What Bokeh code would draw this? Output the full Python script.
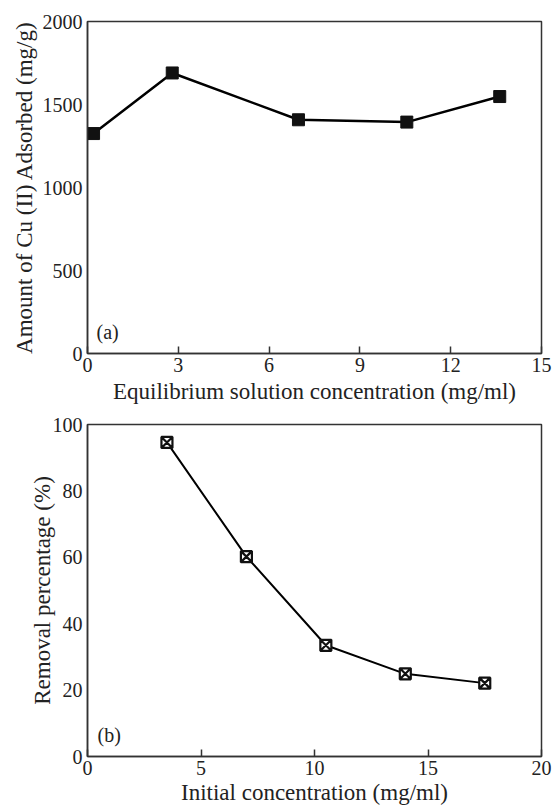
from bokeh.plotting import figure
from bokeh.layouts import column
from bokeh.models import Label, FixedTicker
from bokeh.embed import file_html
from bokeh.resources import INLINE

# Panel (a)
eq_conc = [0.2, 2.8, 6.97, 10.55, 13.62]
adsorbed = [1325, 1690, 1408, 1394, 1548]
xticks_a = [0, 3, 6, 9, 12, 15]
yticks_a = [0, 500, 1000, 1500, 2000]

# Panel (b)
init_conc = [3.5, 7.0, 10.5, 14.0, 17.5]
removal = [94.6, 60.2, 33.5, 24.9, 22.1]
xticks_b = [0, 5, 10, 15, 20]
yticks_b = [0, 20, 40, 60, 80, 100]

FONT = "Liberation Serif"
TXT = "#222222"


def style(p, xt, yt):
    p.xaxis.ticker = FixedTicker(ticks=xt)
    p.yaxis.ticker = FixedTicker(ticks=yt)
    for ax in (p.xaxis[0], p.yaxis[0]):
        ax.axis_label_text_font = FONT
        ax.axis_label_text_font_style = "normal"
        ax.axis_label_text_font_size = "23px"
        ax.axis_label_text_color = TXT
        ax.major_label_text_font = FONT
        ax.major_label_text_font_size = "20px"
        ax.major_label_text_color = TXT
        ax.axis_line_color = "#333333"
        ax.axis_line_width = 1.5
        ax.minor_tick_line_color = None
        ax.major_tick_line_color = "#333333"
        ax.major_tick_line_width = 1.5
    p.xaxis.major_tick_in = 7
    p.xaxis.major_tick_out = 0
    p.yaxis.major_tick_in = 0
    p.yaxis.major_tick_out = 0
    p.xaxis.axis_label_standoff = 1
    p.yaxis.axis_label_standoff = 4
    p.xaxis.major_label_standoff = 4
    p.yaxis.major_label_standoff = 5
    p.xgrid.grid_line_color = None
    p.ygrid.grid_line_color = None
    p.outline_line_color = "#333333"
    p.outline_line_width = 1.5
    p.background_fill_color = "white"
    p.border_fill_color = "white"


p1 = figure(frame_width=454, frame_height=332, x_range=(0, 15), y_range=(0, 2000),
            output_backend="svg", toolbar_location=None,
            min_border_left=87, min_border_right=12, min_border_top=21, min_border_bottom=59)
style(p1, xticks_a, yticks_a)
p1.xaxis.axis_label = "Equilibrium solution concentration (mg/ml)"
p1.xaxis.axis_label_standoff = 4
p1.yaxis.axis_label = "Amount of Cu (II) Adsorbed (mg/g)"
p1.yaxis.axis_label_standoff = 3
p1.line(eq_conc, adsorbed, line_color="black", line_width=2.5)
p1.scatter(eq_conc, adsorbed, marker="square", size=12, fill_color="#111111",
           line_color="#111111")
p1.add_layout(Label(x=0.3, y=130, text="(a)", text_font=FONT, text_font_size="20px",
                    text_color=TXT, text_baseline="middle"))

p2 = figure(frame_width=454, frame_height=332, x_range=(0, 20), y_range=(0, 100),
            output_backend="svg", toolbar_location=None,
            min_border_left=87, min_border_right=12, min_border_top=12, min_border_bottom=50)
style(p2, xticks_b, yticks_b)
p2.xaxis.axis_label = "Initial concentration (mg/ml)"
p2.xaxis.axis_label_standoff = 2
p2.yaxis.axis_label = "Removal percentage (%)"
p2.yaxis.axis_label_standoff = -5
p2.line(init_conc, removal, line_color="black", line_width=2)
p2.scatter(init_conc, removal, marker="square_x", size=11, fill_color="white",
           line_color="#111111", line_width=2.2)
p2.add_layout(Label(x=0.44, y=6.6, text="(b)", text_font=FONT, text_font_size="20px",
                    text_color=TXT, text_baseline="middle"))

layout = column(p1, p2, spacing=0)
open("out.html", "w").write(file_html(layout, INLINE))
